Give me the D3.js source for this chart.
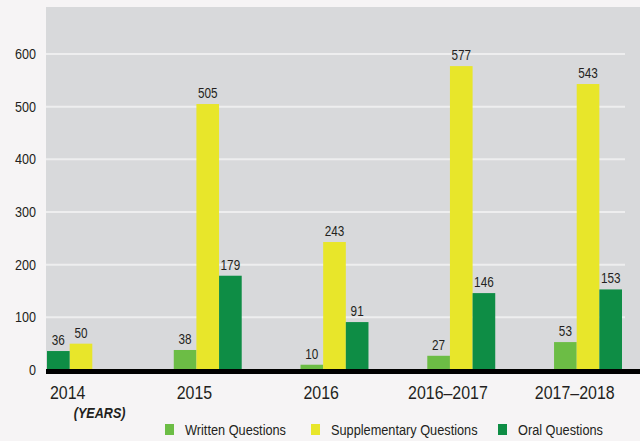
<!DOCTYPE html>
<html>
<head>
<meta charset="utf-8">
<script src="https://cdn.jsdelivr.net/npm/d3@7"></script>
<style>
  html, body { margin: 0; padding: 0; background: #f6f4f5; }
  svg { display: block; }
  text { font-family: "Liberation Sans", Arial, sans-serif; fill: #231f20; }
</style>
</head>
<body>
<svg id="chart" width="640" height="441"></svg>
<script>
// ---- data ----
const categories = ["2014", "2015", "2016", "2016\u20132017", "2017\u20132018"];
const written = [null, 38, 10, 27, 53];
const supplementary = [50, 505, 243, 577, 543];
const oral = [36, 179, 91, 146, 153];
const seriesNames = ["Written Questions", "Supplementary Questions", "Oral Questions"];
const seriesColors = ["#6cbd45", "#e8e62a", "#0e8d45"];
const yTicks = [0, 100, 200, 300, 400, 500, 600];
const axisNote = "(YEARS)";

// ---- layout ----
const W = 640, H = 441;
const plot = { left: 46, right: 640, top: 7, bottom: 370 };
const NARROW = 0.84;
const svg = d3.select("#chart");

// condense text horizontally around its anchor point
function narrow(sel, k = NARROW) {
  sel.each(function () {
    const t = d3.select(this);
    const tx = +t.attr("x") || 0, ty = +t.attr("y") || 0;
    t.attr("x", 0).attr("y", 0).attr("transform", `translate(${tx},${ty}) scale(${k},1)`);
  });
}

const y = d3.scaleLinear().domain([0, 600]).range([370, 54]);
const x = d3.scaleBand().domain(categories).range([47, 622]).paddingInner(0.464).paddingOuter(0);
const slot = d3.scaleBand().domain([0, 1, 2]).range([0, x.bandwidth()]).padding(0);

// background
svg.append("rect").attr("x", plot.left).attr("y", plot.top)
  .attr("width", plot.right - plot.left).attr("height", plot.bottom - plot.top + 2)
  .attr("fill", "#d8d9db");

// gridlines
svg.append("g").selectAll("line").data(yTicks.filter(d => d > 0)).join("line")
  .attr("x1", plot.left).attr("x2", 625)
  .attr("y1", d => y(d)).attr("y2", d => y(d))
  .attr("stroke", "#eeeeef").attr("stroke-width", 2);

// y axis labels
svg.append("g").selectAll("text").data(yTicks).join("text")
  .attr("x", 36).attr("y", d => y(d) + 5)
  .attr("text-anchor", "end")
  .attr("font-size", 15)
  .text(d => d)
  .call(narrow);

// bars
const rows = [];
categories.forEach((c, i) => {
  const vals = [written[i], supplementary[i], oral[i]];
  // when the written value is missing, the oral bar takes the first slot
  const slots = written[i] == null ? [null, 1, 0] : [0, 1, 2];
  vals.forEach((v, s) => {
    if (v == null) return;
    rows.push({ cat: c, series: s, value: v, slot: slots[s] });
  });
});

const barG = svg.append("g");
barG.selectAll("rect").data(rows).join("rect")
  .attr("x", d => x(d.cat) + slot(d.slot))
  .attr("width", slot.bandwidth())
  .attr("y", d => y(d.value))
  .attr("height", d => y(0) - y(d.value))
  .attr("fill", d => seriesColors[d.series]);

barG.selectAll("text").data(rows).join("text")
  .attr("x", d => x(d.cat) + slot(d.slot) + slot.bandwidth() / 2)
  .attr("y", d => y(d.value) - 6)
  .attr("text-anchor", "middle")
  .attr("font-size", 14)
  .text(d => d.value)
  .call(narrow);

// baseline
svg.append("line").attr("x1", plot.left).attr("x2", W)
  .attr("y1", y(0) + 1.5).attr("y2", y(0) + 1.5)
  .attr("stroke", "#000").attr("stroke-width", 5);

// x labels
svg.append("g").selectAll("text").data(categories).join("text")
  .attr("x", d => x(d) + slot(1) - 2)
  .attr("y", 399)
  .attr("text-anchor", "middle")
  .attr("font-size", 19)
  .text(d => d)
  .call(narrow);

svg.append("text")
  .attr("x", x(categories[0]) + slot(1) + 30)
  .attr("y", 418)
  .attr("text-anchor", "middle")
  .attr("font-size", 14)
  .attr("font-weight", "bold")
  .attr("font-style", "italic")
  .text(axisNote)
  .call(narrow, 0.9);

// legend
const legendX = [165, 311, 498];
const lg = svg.append("g").selectAll("g").data(seriesNames).join("g")
  .attr("transform", (d, i) => `translate(${legendX[i]},424)`);
lg.append("rect").attr("width", 9).attr("height", 11).attr("fill", (d, i) => seriesColors[i]);
lg.append("text").attr("x", 20).attr("y", 11).attr("font-size", 15).text(d => d).call(narrow, 0.85);
</script>
</body>
</html>
